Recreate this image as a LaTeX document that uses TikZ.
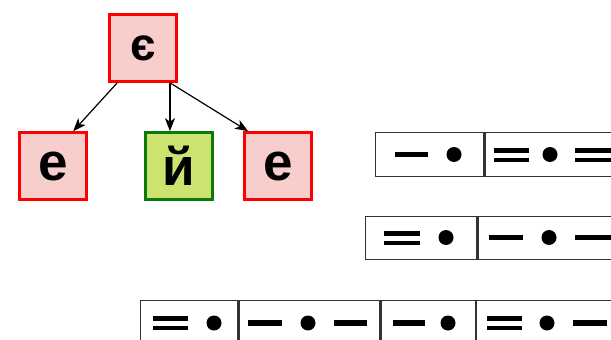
\documentclass[tikz,border=0pt]{standalone}
\usepackage{fontspec}
\setmainfont{Liberation Sans}
\usetikzlibrary{calc,arrows.meta}
\definecolor{redfill}{HTML}{F8CECC}
\definecolor{redline}{HTML}{FF0000}
\definecolor{greenfill}{HTML}{CDE36F}
\definecolor{greenline}{HTML}{0B7A0B}
\definecolor{frameline}{HTML}{333333}
\tikzset{
  letterbox/.style={draw=redline, fill=redfill, line width=2.6pt, minimum size=67pt, inner sep=0pt, font=\fontsize{53}{53}\selectfont\bfseries},
  greenbox/.style={letterbox, draw=greenline, fill=greenfill},
  link/.style={-{Stealth[length=13pt,width=10pt,inset=3.5pt]}, line width=1.2pt, black},
  cell/.style={draw=frameline, line width=1.3pt, inner sep=0pt, anchor=north west},
  hard/.style={line width=5.3pt},
  soft/.style={line width=4.2pt},
}
\newcommand{\dashsym}[3]{\draw[hard] (#1,#3) -- (#2,#3);}
\newcommand{\softsym}[3]{\draw[soft] (#1,#3-4.6) -- (#2,#3-4.6); \draw[soft] (#1,#3+4.6) -- (#2,#3+4.6);}
\newcommand{\vowelsym}[2]{\fill (#1,#2) circle (7.5);}
\begin{document}
\begin{tikzpicture}[x=1pt,y=-1pt]
\useasboundingbox (0,0) rectangle (611,340);
\clip (0,0) rectangle (611,340);
% tree
\node[letterbox, font=\fontsize{46}{46}\selectfont\bfseries] (top) at (143,48) {є};
\node[letterbox] (left) at (53,166) {е};
\node[greenbox] (mid) at (179,166) {й};
\node[letterbox] (right) at (278,166) {е};
\coordinate (s1) at ($(top.south west)!0.13!(top.south east)$);
\coordinate (s2) at ($(top.south west)!0.887!(top.south east)$);
\draw[link] (s1) -- ($(left.north west)!0.79!(left.north east)$);
\draw[link] (s2) -- (s2 |- mid.north);
\draw[link] (s2) -- ($(right.north west)!0.07!(right.north east)$);
% row 1
\node[cell, minimum width=108pt, minimum height=44pt] (r1a) at (375,132) {};
\node[cell, minimum width=150pt, minimum height=44pt] (r1b) at (r1a.north east) {};
\dashsym{395}{428}{154.5}
\vowelsym{454}{154.5}
\softsym{494}{529}{155}
\vowelsym{550}{154.5}
\softsym{575}{620}{155}
% row 2
\node[cell, minimum width=111pt, minimum height=43pt] (r2a) at (365,216) {};
\node[cell, minimum width=150pt, minimum height=43pt] (r2b) at (r2a.north east) {};
\softsym{384}{420}{238}
\vowelsym{446}{237.5}
\dashsym{489}{523}{237.5}
\vowelsym{549}{237.5}
\dashsym{575}{620}{237.5}
% row 3
\node[cell, minimum width=97pt, minimum height=50pt] (r3a) at (140,300) {};
\node[cell, minimum width=141pt, minimum height=50pt] (r3b) at (r3a.north east) {};
\node[cell, minimum width=94pt, minimum height=50pt] (r3c) at (r3b.north east) {};
\node[cell, minimum width=150pt, minimum height=50pt] (r3d) at (r3c.north east) {};
\softsym{153}{188}{323}
\vowelsym{214}{323}
\dashsym{248}{282}{323}
\vowelsym{308}{323}
\dashsym{334}{367}{323}
\dashsym{393}{425}{323}
\vowelsym{448}{323}
\softsym{487}{522}{323}
\vowelsym{547}{323}
\dashsym{573}{607}{323}
\end{tikzpicture}
\end{document}
